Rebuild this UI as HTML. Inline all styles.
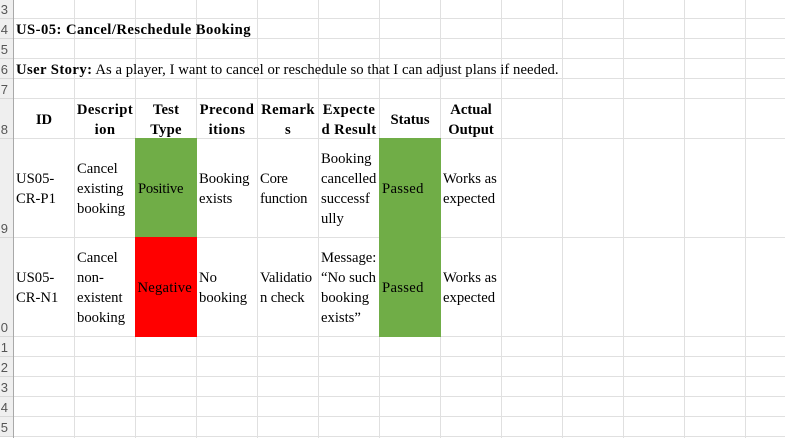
<!DOCTYPE html>
<html><head><meta charset="utf-8"><title>US-05 sheet</title>
<style>
html,body{margin:0;padding:0;background:#fff}
#sheet{position:relative;width:785px;height:438px;overflow:hidden;background:#fff;font-family:"Liberation Serif",serif;font-size:14.67px;color:#000}
.v{position:absolute;top:0;width:1px;height:438px;background:#e0e0e0}
.h{position:absolute;left:0;width:785px;height:1px;background:#e0e0e0}
.rh{position:absolute;left:0;width:13px;background:#efefef;border-bottom:1px solid #d8d8d8;box-sizing:border-box;font:13px "Liberation Sans",sans-serif;color:#555}
.rh span{position:absolute;right:5px;bottom:0;line-height:16px;white-space:nowrap}
.fill{position:absolute}
.c{position:absolute;line-height:20px;white-space:nowrap}
.b{font-weight:bold;text-align:center}
.w{letter-spacing:.42px}
.t{letter-spacing:.2px}
</style></head><body>
<div id="sheet">
<div class="v" style="left:74px"></div>
<div class="v" style="left:135px"></div>
<div class="v" style="left:196px"></div>
<div class="v" style="left:257px"></div>
<div class="v" style="left:318px"></div>
<div class="v" style="left:379px"></div>
<div class="v" style="left:440px"></div>
<div class="v" style="left:501px"></div>
<div class="v" style="left:562px"></div>
<div class="v" style="left:623px"></div>
<div class="v" style="left:684px"></div>
<div class="v" style="left:745px"></div>
<div class="h" style="top:18px"></div>
<div class="h" style="top:38px"></div>
<div class="h" style="top:58px"></div>
<div class="h" style="top:78px"></div>
<div class="h" style="top:98px"></div>
<div class="h" style="top:138px"></div>
<div class="h" style="top:237px"></div>
<div class="h" style="top:336px"></div>
<div class="h" style="top:356px"></div>
<div class="h" style="top:376px"></div>
<div class="h" style="top:396px"></div>
<div class="h" style="top:416px"></div>
<div class="h" style="top:436px"></div>

<div class="rh" style="top:0;height:19px"><span>3</span></div>
<div class="rh" style="top:19px;height:20px"><span>4</span></div>
<div class="rh" style="top:39px;height:20px"><span>5</span></div>
<div class="rh" style="top:59px;height:20px"><span>6</span></div>
<div class="rh" style="top:79px;height:20px"><span>7</span></div>
<div class="rh" style="top:99px;height:40px"><span>8</span></div>
<div class="rh" style="top:139px;height:99px"><span>9</span></div>
<div class="rh" style="top:238px;height:99px"><span>0</span></div>
<div class="rh" style="top:337px;height:20px"><span>1</span></div>
<div class="rh" style="top:357px;height:20px"><span>2</span></div>
<div class="rh" style="top:377px;height:20px"><span>3</span></div>
<div class="rh" style="top:397px;height:20px"><span>4</span></div>
<div class="rh" style="top:417px;height:20px"><span>5</span></div>
<div class="fill" style="left:13px;top:0;width:1px;height:438px;background:#a9a9a9"></div>

<div class="fill" style="left:135px;top:138px;width:62px;height:99px;background:#70ad47"></div>
<div class="fill" style="left:135px;top:237px;width:62px;height:100px;background:#ff0000"></div>
<div class="fill" style="left:379px;top:138px;width:62px;height:199px;background:#70ad47"></div>

<div class="c" style="left:16px;top:20px;font-weight:bold;letter-spacing:.45px">US-05: Cancel/Reschedule Booking</div>
<div class="c" style="left:16px;top:60px;letter-spacing:.06px"><b style="letter-spacing:.42px">User Story:</b> As a player, I want to cancel or reschedule so that I can adjust plans if needed.</div>

<div class="c b" style="left:14px;width:60px;top:110px">ID</div>
<div class="c b w" style="left:75px;width:60px;top:100px">Descript<br>ion</div>
<div class="c b t" style="left:136px;width:60px;top:100px">Test<br>Type</div>
<div class="c b w" style="left:197px;width:60px;top:100px">Precond<br>itions</div>
<div class="c b w" style="left:258px;width:60px;top:100px">Remark<br>s</div>
<div class="c b w" style="left:319px;width:60px;top:100px">Expecte<br>d Result</div>
<div class="c b" style="left:380px;width:60px;top:110px">Status</div>
<div class="c b" style="left:441px;width:60px;top:100px">Actual<br>Output</div>

<div class="c" style="left:16px;top:169px">US05-<br>CR-P1</div>
<div class="c" style="left:77px;top:159px">Cancel<br>existing<br>booking</div>
<div class="c" style="left:138px;top:179px;letter-spacing:-.25px">Positive</div>
<div class="c" style="left:199px;top:169px">Booking<br>exists</div>
<div class="c" style="left:260px;top:169px;letter-spacing:-.2px">Core<br>function</div>
<div class="c" style="left:321px;top:149px">Booking<br>cancelled<br>successf<br>ully</div>
<div class="c" style="left:382px;top:179px;letter-spacing:.3px">Passed</div>
<div class="c" style="left:443px;top:169px">Works as<br>expected</div>

<div class="c" style="left:16px;top:268px">US05-<br>CR-N1</div>
<div class="c" style="left:77px;top:248px">Cancel<br>non-<br>existent<br>booking</div>
<div class="c" style="left:137.5px;top:278px;letter-spacing:.2px">Negative</div>
<div class="c" style="left:199px;top:268px">No<br>booking</div>
<div class="c" style="left:260px;top:268px;letter-spacing:-.1px">Validatio<br>n check</div>
<div class="c" style="left:321px;top:248px">Message:<br>“No such<br>booking<br>exists”</div>
<div class="c" style="left:382px;top:278px;letter-spacing:.3px">Passed</div>
<div class="c" style="left:443px;top:268px">Works as<br>expected</div>
</div>
</body></html>
